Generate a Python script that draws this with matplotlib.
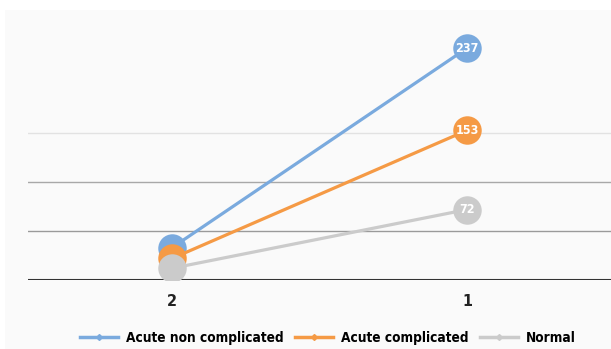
import matplotlib
matplotlib.use("Agg")
import matplotlib.pyplot as plt
from matplotlib.lines import Line2D

# datos
categorias = ["2", "1"]
series = ["Acute non complicated", "Acute complicated", "Normal"]
valores_acute_nc = [33, 237]
valores_acute_c = [22, 153]
valores_normal = [12, 72]
colores = ["#7aaade", "#f59a45", "#cbcbcb"]
grid_y = [50, 100, 150]

fuentes = ['Liberation Sans Narrow', 'DejaVu Sans']
plt.rcParams['font.family'] = fuentes
plt.rcParams['font.stretch'] = 'condensed'

fig = plt.figure(figsize=(6.11, 3.49), dpi=100)
fig.patch.set_facecolor("white")
# fondo gris claro
fondo = fig.add_axes([5/611, 0, 1, (349-10)/349], zorder=-1)
fondo.axis("off")
fondo.add_patch(plt.Rectangle((0, 0), 1, 1, transform=fondo.transAxes, color="#fafafa"))

ax = fig.add_axes([28/611, 69/349, 1 - 28/611, (280-10)/349])
ax.set_facecolor("none")

x = list(range(len(categorias)))
datos = [valores_acute_nc, valores_acute_c, valores_normal]
for i, (nombre, vals, col) in enumerate(zip(series, datos, colores)):
    ax.plot(x, vals, color=col, lw=2.3, zorder=3 + i)
    ax.plot(x, vals, "o", color=col, ms=20.5, zorder=3 + i, markeredgewidth=0)
    # etiqueta solo en el punto de la derecha
    ax.text(x[1], vals[1], str(vals[1]), color="white", fontsize=9, fontweight="bold",
            ha="center", va="center", zorder=10)

colores_grid = ["#9a9a9a", "#a8a8a8", "#e2e2e2"]
for g, c in zip(grid_y, colores_grid):
    ax.axhline(g, color=c, lw=1, zorder=1)
ax.axhline(0, color="#333333", lw=1.5, zorder=2)

ax.set_xlim(-0.488, 1.488)
ax.set_ylim(0, 276)
ax.set_xticks(x)
ax.set_xticklabels(categorias, fontsize=11.5, fontweight="bold", color="#222222")
ax.tick_params(axis="x", length=0, pad=10)
ax.set_yticks([])
for s in ax.spines.values():
    s.set_visible(False)

handles = [Line2D([0], [0], color=c, lw=2.5, marker="D", ms=3) for c in colores]
fig.legend(handles, series, loc="center", bbox_to_anchor=(328/611, 1 - 338/349), ncol=3,
           frameon=False, handlelength=2.8, columnspacing=0.8, handletextpad=0.6,
           prop={'family': fuentes, 'weight': 'bold', 'size': 9.8, 'stretch': 'condensed'})

fig.savefig("out.png", dpi=100)
